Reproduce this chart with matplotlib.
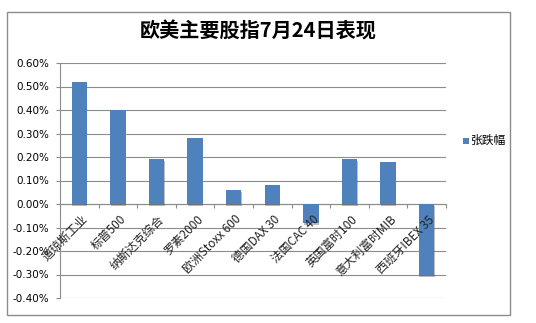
import matplotlib
matplotlib.use("Agg")
import matplotlib.pyplot as plt
from matplotlib.patches import Rectangle
import matplotlib.patheffects as pe

plt.rcParams['font.family'] = ['Noto Sans CJK SC', 'DejaVu Sans']

categories = ["道琼斯工业", "标普500", "纳斯达克综合", "罗素2000", "欧洲Stoxx 600",
              "德国DAX 30", "法国CAC 40", "英国富时100", "意大利富时MIB", "西班牙IBEX 35"]
values = [0.52, 0.40, 0.19, 0.28, 0.06, 0.08, -0.08, 0.19, 0.18, -0.30]
yticks = [0.6, 0.5, 0.4, 0.3, 0.2, 0.1, 0.0, -0.1, -0.2, -0.3, -0.4]
title = "欧美主要股指7月24日表现"
legend_label = "张跌幅"

W, H = 536, 323
fig = plt.figure(figsize=(W/100, H/100), dpi=100)
fig.patch.set_facecolor('white')

# outer frame
fig.patches.append(Rectangle((7/W, 1-315/H), (510-7)/W, (315-12)/H, transform=fig.transFigure,
                             fill=False, edgecolor='#8c8c8c', linewidth=1.0))

ax = fig.add_axes([60/W, 1-298/H, (446-60)/W, (298-63)/H])
x = list(range(len(categories)))
bars = ax.bar(x, values, width=0.4, color='#4F81BD', zorder=3,
              path_effects=[pe.SimplePatchShadow(offset=(0.3, -1.5), shadow_rgbFace='#444444', alpha=0.35), pe.Normal()])

ax.set_xlim(-0.5, len(categories)-0.5)
ax.set_ylim(-0.4, 0.6)
ax.set_yticks(yticks)
ax.set_yticklabels([f"{v:.2f}%" for v in yticks], fontsize=7.5, family='DejaVu Sans')
ax.yaxis.grid(True, color='#8c8c8c', linewidth=0.8, zorder=0)
ax.tick_params(axis='y', length=3, color='#8c8c8c', pad=5)

for s in ['top', 'right']:
    ax.spines[s].set_visible(False)
ax.spines['left'].set_color('#8c8c8c')
ax.spines['bottom'].set_position(('data', 0))
ax.spines['bottom'].set_color('#8c8c8c')

ax.set_xticks([i + 0.5 for i in x[:-1]] + [-0.5, len(categories)-0.5])
ax.set_xticklabels([])
ax.tick_params(axis='x', length=3, direction='out', color='#8c8c8c')

for i, c in enumerate(categories):
    ax.annotate(c, xy=(i, 0), xytext=(1, -6.5), textcoords='offset points',
                rotation=45, ha='right', va='top', rotation_mode='anchor',
                fontsize=8.5, color='#222222')

fig.text(258/W, 1-31/H, title, ha='center', va='center', fontsize=14.5, fontweight='bold')

# legend
fig.patches.append(Rectangle((463/W, 1-144/H), 6/W, 6/H, transform=fig.transFigure,
                             facecolor='#4F81BD', edgecolor='none'))
fig.text(471/W, 1-140.5/H, legend_label, ha='left', va='center', fontsize=8.5)

fig.savefig('out.png', dpi=100)
